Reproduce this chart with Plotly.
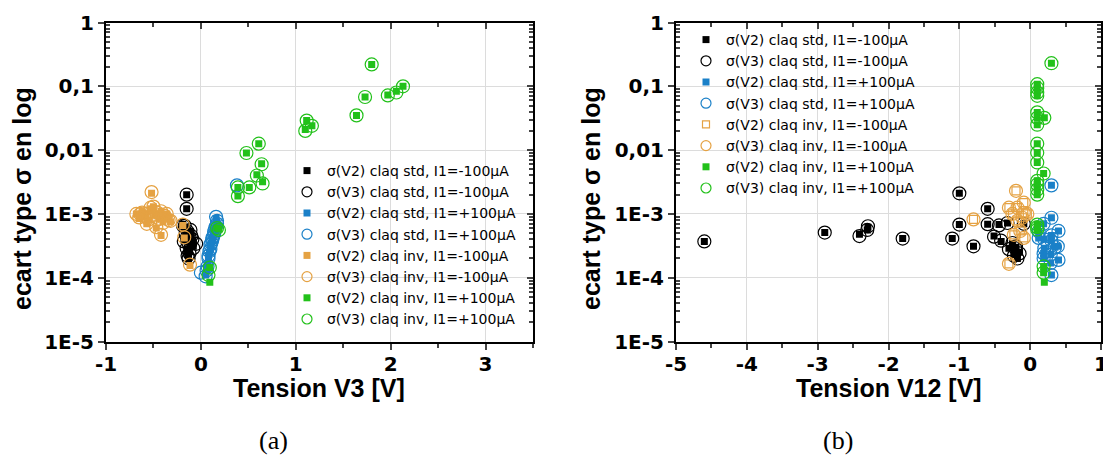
import plotly.graph_objects as go

######### DATA #########
# (a) : sigma vs Tension V3
a_std_m_x = [-0.15, -0.15, -0.19, -0.17, -0.16, -0.14, -0.12, -0.10, -0.18, -0.13, -0.11, -0.08, -0.15, -0.12, -0.14, -0.09, -0.13, -0.16, -0.11, -0.05]
a_std_m_v2 = [2.0e-3, 1.2e-3, 6.9e-4, 6.2e-4, 5.5e-4, 5.0e-4, 4.6e-4, 4.2e-4, 3.9e-4, 3.6e-4, 3.3e-4, 3.1e-4, 2.8e-4, 2.6e-4, 2.3e-4, 3.8e-4, 2.0e-4, 4.4e-4, 5.3e-4, None]
a_std_m_v3 = [2.0e-3, 1.2e-3, 6.6e-4, 6.5e-4, 5.2e-4, 5.3e-4, 4.3e-4, 4.5e-4, 3.7e-4, 3.4e-4, 3.5e-4, 2.9e-4, 2.9e-4, 2.4e-4, 2.2e-4, 4.0e-4, 2.0e-4, 4.7e-4, 5.6e-4, 3.4e-4]

a_std_p_x = [0.05, 0.06, 0.07, 0.08, 0.08, 0.09, 0.10, 0.10, 0.11, 0.12, 0.12, 0.13, 0.14, 0.14, 0.15, 0.16, 0.17, 0.17, 0.16, 0.38, 0.0]
a_std_p_v2 = [1.1e-4, 1.3e-4, 1.6e-4, 1.9e-4, 2.2e-4, 2.5e-4, 2.8e-4, 3.2e-4, 3.5e-4, 3.8e-4, 4.2e-4, 4.5e-4, 4.8e-4, 5.3e-4, 5.8e-4, 6.2e-4, 6.8e-4, 7.5e-4, 8.5e-4, None, None]
a_std_p_v3 = [1.05e-4, 1.3e-4, 1.5e-4, 2.0e-4, 2.2e-4, 2.6e-4, 2.8e-4, 3.3e-4, 3.5e-4, 3.9e-4, 4.2e-4, 4.4e-4, 4.9e-4, 5.3e-4, 6.0e-4, 6.4e-4, 7.0e-4, 7.8e-4, 9.0e-4, 2.8e-3, 1.2e-4]

a_inv_m_x = [-0.52, -0.68, -0.65, -0.62, -0.60, -0.58, -0.55, -0.53, -0.50, -0.48, -0.46, -0.44, -0.42, -0.40, -0.38, -0.36, -0.34, -0.32, -0.42, -0.57, -0.64, -0.47, -0.19, -0.175, -0.115]
a_inv_m_v2 = [2.1e-3, 1.0e-3, 8.5e-4, 1.1e-3, 9.0e-4, 1.0e-3, 8.0e-4, 1.2e-3, 1.3e-3, 9.5e-4, 1.0e-3, 8.5e-4, 1.1e-3, 7.5e-4, 9.0e-4, 1.0e-3, 8.5e-4, 7.5e-4, 4.6e-4, 7.0e-4, 9.5e-4, 6.0e-4, 6.6e-4, 4.2e-4, 1.55e-4]
a_inv_m_v3 = [2.2e-3, 1.0e-3, 8.8e-4, 1.05e-3, 9.2e-4, 1.0e-3, 8.2e-4, 1.25e-3, 1.3e-3, 9.0e-4, 1.05e-3, 8.3e-4, 1.1e-3, 7.2e-4, 9.3e-4, 1.0e-3, 8.0e-4, 7.8e-4, 4.7e-4, 7.0e-4, 1.0e-3, 6.2e-4, 6.8e-4, 4.3e-4, 1.6e-4]

a_inv_p_x = [0.094, 0.094, 0.08, 0.17, 0.19, 0.39, 0.39, 0.51, 0.59, 0.65, 0.64, 0.61, 0.48, 1.10, 1.115, 1.17, 1.64, 1.73, 1.80, 1.97, 2.06, 2.13]
a_inv_p_v2 = [1.44e-4, 8.5e-5, None, 6.0e-4, 5.8e-4, 2.6e-3, 1.9e-3, 2.6e-3, 4.1e-3, 3.2e-3, 6.1e-3, 1.26e-2, 9.0e-3, 2.1e-2, 2.9e-2, 2.4e-2, 3.5e-2, 6.8e-2, 2.2e-1, 7.3e-2, 8.4e-2, 1.0e-1]
a_inv_p_v3 = [1.44e-4, None, 1.1e-4, 6.0e-4, 5.6e-4, 2.6e-3, 1.9e-3, 2.6e-3, 4.0e-3, 3.0e-3, 6.0e-3, 1.26e-2, 9.0e-3, 2.0e-2, 2.9e-2, 2.4e-2, 3.5e-2, 6.8e-2, 2.2e-1, 7.2e-2, 8.0e-2, 1.0e-1]

# (b) : sigma vs Tension V12
b_std_m_x = [-4.6, -2.90, -2.41, -2.30, -2.29, -1.80, -1.00, -1.00, -1.10, -0.80, -0.60, -0.60, -0.51, -0.41, -0.44, -0.32, -0.30, -0.25, -0.23, -0.21, -0.18, -0.09, -0.20, -0.15]
b_std_m_v2 = [3.7e-4, 5.1e-4, 4.8e-4, 5.6e-4, 6.2e-4, 4.1e-4, 2.1e-3, 6.8e-4, 4.1e-4, 3.1e-4, 1.2e-3, 6.9e-4, 4.5e-4, 3.7e-4, 6.8e-4, 7.2e-4, 2.9e-4, 3.4e-4, 2.3e-4, 2.8e-4, 2.0e-4, 7.0e-4, 3.0e-4, 2.5e-4]
b_std_m_v3 = [3.7e-4, 5.1e-4, 4.5e-4, 5.6e-4, 6.4e-4, 4.1e-4, 2.1e-3, 6.8e-4, 4.1e-4, 3.1e-4, 1.2e-3, 6.9e-4, 4.4e-4, 3.8e-4, 6.6e-4, 7.2e-4, 2.8e-4, 3.5e-4, 2.2e-4, 2.9e-4, 2.0e-4, 7.0e-4, 3.1e-4, 2.4e-4]

b_std_p_x = [0.30, 0.30, 0.19, 0.40, 0.39, 0.40, 0.29, 0.30, 0.19, 0.20, 0.12, 0.20, 0.30, 0.30, 0.12, 0.19, 0.29, 0.35]
b_std_p_v2 = [2.8e-3, 8.7e-4, 7.0e-4, 5.4e-4, 3.1e-4, 1.9e-4, 1.7e-4, 1.1e-4, 2.0e-4, 2.9e-4, 4.2e-4, 4.0e-4, 3.8e-4, 4.6e-4, 5.3e-4, 2.4e-4, 2.3e-4, 3.0e-4]
b_std_p_v3 = [2.8e-3, 8.7e-4, 7.0e-4, 5.4e-4, 3.1e-4, 1.9e-4, 1.7e-4, 1.1e-4, 2.0e-4, 2.9e-4, 4.2e-4, 4.0e-4, 3.8e-4, 4.6e-4, 5.3e-4, 2.4e-4, 2.3e-4, 3.0e-4]

b_inv_m_x = [-0.20, -0.80, -0.30, -0.09, -0.18, -0.09, -0.25, -0.18, -0.11, -0.04, -0.14, -0.23, -0.09, -0.30]
b_inv_m_v2 = [2.3e-3, 8.2e-4, 1.65e-4, 1.5e-3, 1.25e-3, 1.04e-3, 1.0e-3, 7.8e-4, 8.7e-4, 1.0e-3, 5.4e-4, 4.7e-4, 4.2e-4, 1.25e-3]
b_inv_m_v3 = [2.3e-3, 8.2e-4, 1.65e-4, 1.5e-3, 1.25e-3, 1.04e-3, 1.0e-3, 7.8e-4, 8.7e-4, 1.0e-3, 5.4e-4, 4.7e-4, 4.2e-4, 1.25e-3]

b_inv_p_x = [0.30, 0.10, 0.10, 0.10, 0.10, 0.10, 0.10, 0.10, 0.20, 0.10, 0.10, 0.10, 0.19, 0.10, 0.10, 0.10, 0.10, 0.10, 0.10, 0.10, 0.19, 0.19, 0.20]
b_inv_p_v2 = [0.23, 0.108, 0.094, 0.080, 0.071, 0.039, 0.032, 0.025, 0.032, 0.0126, 0.0091, 0.0064, 0.0043, 0.0033, 0.0029, 0.0024, 0.0020, 6.8e-4, 6.2e-4, 5.7e-4, 1.5e-4, 1.2e-4, 8.5e-5]
b_inv_p_v3 = [0.23, 0.108, 0.094, 0.080, 0.071, 0.039, 0.032, 0.025, 0.032, 0.0126, 0.0091, 0.0064, 0.0043, 0.0033, 0.0029, 0.0024, 0.0020, 6.8e-4, 6.2e-4, 5.7e-4, 1.5e-4, 1.2e-4, None]

y_tickvals = [1e-5, 1e-4, 1e-3, 1e-2, 1e-1, 1]
y_ticktext = ["1E-5", "1E-4", "1E-3", "0,01", "0,1", "1"]
xa_tickvals = [-1, 0, 1, 2, 3]
xa_ticktext = ["-1", "0", "1", "2", "3"]
xb_tickvals = [-5, -4, -3, -2, -1, 0, 1]
xb_ticktext = ["-5", "-4", "-3", "-2", "-1", "0", "1"]

######### STYLE #########
BLACK = "#000000"
BLUE = "#1a80c8"
ORANGE = "#e5a243"
GREEN = "#22c11a"
FONT = "Liberation Sans"
TICKFONT = "DejaVu Sans"
GRID = "#dcdcdc"

LABELS = [
    "σ(V2) claq std, I1=-100µA", "σ(V3) claq std, I1=-100µA",
    "σ(V2) claq std, I1=+100µA", "σ(V3) claq std, I1=+100µA",
    "σ(V2) claq inv, I1=-100µA", "σ(V3) claq inv, I1=-100µA",
    "σ(V2) claq inv, I1=+100µA", "σ(V3) claq inv, I1=+100µA",
]

fig = go.Figure()

def sq_marker(color, open_sq, size):
    return dict(symbol="square-open" if open_sq else "square", size=size, color=color,
                line=dict(width=1.2 if open_sq else 0, color=color))

def circ_marker(color, size):
    return dict(symbol="circle-open", size=size, color=color, line=dict(width=1.2, color=color))

def add_group(x, yv2, yv3, color, xa, ya, open_sq=False):
    fig.add_trace(go.Scatter(x=x, y=yv2, mode="markers", marker=sq_marker(color, open_sq, 8 if open_sq else 7),
                             xaxis=xa, yaxis=ya, showlegend=False))
    fig.add_trace(go.Scatter(x=x, y=yv3, mode="markers", marker=circ_marker(color, 13),
                             xaxis=xa, yaxis=ya, showlegend=False))

def add_legend(color, lab_i, xa, ya, leg, open_sq=False):
    # legend entries with smaller symbols, like in the original figure
    fig.add_trace(go.Scatter(x=[None], y=[None], mode="markers", name=LABELS[lab_i],
                             marker=sq_marker(color, open_sq, 7), xaxis=xa, yaxis=ya, legend=leg))
    fig.add_trace(go.Scatter(x=[None], y=[None], mode="markers", name=LABELS[lab_i + 1],
                             marker=circ_marker(color, 10), xaxis=xa, yaxis=ya, legend=leg))

groups_a = [(a_std_m_x, a_std_m_v2, a_std_m_v3, BLACK, 0, False),
            (a_std_p_x, a_std_p_v2, a_std_p_v3, BLUE, 2, False),
            (a_inv_m_x, a_inv_m_v2, a_inv_m_v3, ORANGE, 4, False),
            (a_inv_p_x, a_inv_p_v2, a_inv_p_v3, GREEN, 6, False)]
groups_b = [(b_std_m_x, b_std_m_v2, b_std_m_v3, BLACK, 0, False),
            (b_std_p_x, b_std_p_v2, b_std_p_v3, BLUE, 2, False),
            (b_inv_m_x, b_inv_m_v2, b_inv_m_v3, ORANGE, 4, True),
            (b_inv_p_x, b_inv_p_v2, b_inv_p_v3, GREEN, 6, False)]

for x, y2, y3, c, i, o in groups_a:
    add_group(x, y2, y3, c, "x", "y", o)
for x, y2, y3, c, i, o in groups_b:
    add_group(x, y2, y3, c, "x2", "y2", o)
for x, y2, y3, c, i, o in groups_a:
    add_legend(c, i, "x", "y", "legend", o)
for x, y2, y3, c, i, o in groups_b:
    add_legend(c, i, "x2", "y2", "legend2", o)

# empty traces so the mirror axes (ticks pointing inward) get drawn
for xa, ya in [("x3", "y"), ("x", "y3"), ("x4", "y2"), ("x2", "y4")]:
    fig.add_trace(go.Scatter(x=[], y=[], xaxis=xa, yaxis=ya, showlegend=False, hoverinfo="skip"))

W, H = 1103, 457
dom_a = [106 / W, 533 / W]
dom_b = [676 / W, 1101 / W]
dom_y = [1 - 341.5 / H, 1 - 22.5 / H]
minor_log = [k * 10 ** e for e in range(-5, 0) for k in range(2, 10)]
tick_font = dict(family=TICKFONT, size=20, color="black", weight="bold")
title_font = dict(family=FONT, size=25, color="black", weight="bold")

def xaxis(dom, rng, vals, text, anchor):
    return dict(domain=dom, range=rng, anchor=anchor, tickvals=vals, ticktext=text, ticks="outside",
                ticklen=6, tickwidth=2, showline=True, linewidth=2, linecolor="black", mirror=False,
                showgrid=True, gridcolor=GRID, gridwidth=1, zeroline=False, tickfont=tick_font,
                automargin=False, ticklabelstandoff=-3, ticklabeloverflow="allow",
                minor=dict(dtick=0.5, tick0=rng[0], ticks="outside", ticklen=4, tickwidth=1.5, showgrid=False))

def yaxis(anchor):
    return dict(domain=dom_y, type="log", range=[-5, 0], anchor=anchor, tickvals=y_tickvals,
                ticktext=y_ticktext, ticks="outside", ticklen=6, tickwidth=2, showline=True,
                linewidth=2, linecolor="black", showgrid=True, gridcolor=GRID, gridwidth=1,
                zeroline=False, tickfont=tick_font, automargin=False,
                minor=dict(tickvals=minor_log, ticks="inside", ticklen=4, tickwidth=1.5, showgrid=False))

def top_axis(over, rng, vals, anchor):
    return dict(overlaying=over, side="top", anchor=anchor, range=rng, tickvals=vals, ticks="inside",
                ticklen=6, tickwidth=2, showline=True, linewidth=2, linecolor="black",
                showticklabels=False, showgrid=False, zeroline=False, automargin=False,
                minor=dict(dtick=0.5, tick0=rng[0], ticks="inside", ticklen=4, tickwidth=1.5, showgrid=False))

def right_axis(over, anchor):
    return dict(overlaying=over, side="right", anchor=anchor, type="log", range=[-5, 0],
                tickvals=y_tickvals, ticks="inside", ticklen=6, tickwidth=2, showline=True,
                linewidth=2, linecolor="black", showticklabels=False, showgrid=False, zeroline=False,
                automargin=False,
                minor=dict(tickvals=minor_log, ticks="inside", ticklen=4, tickwidth=1.5, showgrid=False))

legend_style = dict(font=dict(family="DejaVu Sans", size=14, color="black"), bgcolor="rgba(0,0,0,0)",
                    xanchor="left", yanchor="top", tracegroupgap=0, itemwidth=30)

fig.update_layout(
    width=W, height=H,
    margin=dict(l=0, r=0, t=0, b=0),
    paper_bgcolor="white", plot_bgcolor="white",
    xaxis=xaxis(dom_a, [-1, 3.5], xa_tickvals, xa_ticktext, "y"),
    yaxis=yaxis("x"),
    xaxis2=xaxis(dom_b, [-5, 1], xb_tickvals, xb_ticktext, "y2"),
    yaxis2=yaxis("x2"),
    xaxis3=top_axis("x", [-1, 3.5], xa_tickvals, "y"),
    yaxis3=right_axis("y", "x"),
    xaxis4=top_axis("x2", [-5, 1], xb_tickvals, "y2"),
    yaxis4=right_axis("y2", "x2"),
    legend=dict(x=287 / W, y=1 - 155 / H, **legend_style),
    legend2=dict(x=686 / W, y=1 - 24 / H, **legend_style),
    showlegend=True,
)

# axis titles and sub-captions
def note(text, x, y, font, angle=0):
    fig.add_annotation(text=text, x=x / W, y=1 - y / H, xref="paper", yref="paper", showarrow=False,
                       font=font, textangle=angle, xanchor="center", yanchor="middle")

note("Tension V3 [V]", 319, 388, title_font)
note("Tension V12 [V]", 889, 388, title_font)
note("ecart type σ en log", 22, 199, title_font, -90)
note("ecart type σ en log", 591, 199, title_font, -90)
caption_font = dict(family="Liberation Serif", size=26, color="black")
note("(a)", 273, 440, caption_font)
note("(b)", 838, 440, caption_font)

# the page's default body margin would shift the figure by 8px
fig.write_html("out.html", config={"displayModeBar": False},
               post_script="document.body.style.margin='0';")
